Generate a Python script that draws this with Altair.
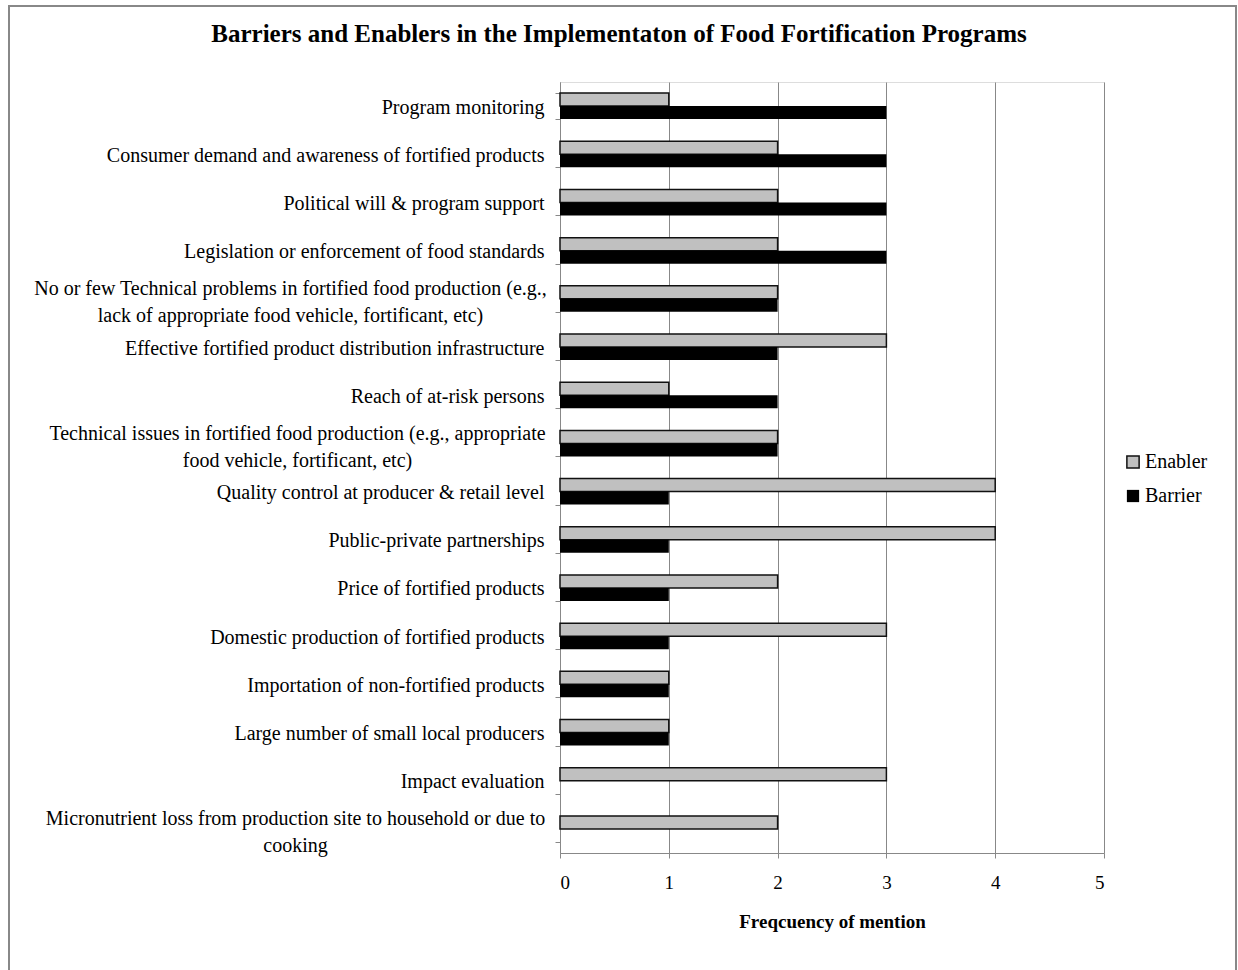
import altair as alt
import pandas as pd

categories = [
    "Program monitoring ",
    "Consumer demand and awareness of fortified products",
    "Political will & program support",
    "Legislation or enforcement of food standards",
    "No or few Technical problems in fortified food production (e.g.,|lack of appropriate food vehicle, fortificant, etc)",
    "Effective fortified product distribution infrastructure",
    "Reach of at-risk persons",
    "Technical issues in fortified food production (e.g., appropriate|food vehicle, fortificant, etc)",
    "Quality control at producer & retail level",
    "Public-private partnerships",
    "Price of fortified products",
    "Domestic production of fortified products",
    "Importation of non-fortified products",
    "Large number of small local producers",
    "Impact evaluation",
    "Micronutrient loss from production site to household or due to|cooking",
]
enabler = [1, 2, 2, 2, 2, 3, 1, 2, 4, 4, 2, 3, 1, 1, 3, 2]
barrier = [3, 3, 3, 3, 2, 2, 2, 2, 1, 1, 1, 1, 1, 1, 0, 0]
series_names = ["Enabler", "Barrier"]
x_ticks = [0, 1, 2, 3, 4, 5]

rows = []
for c, e, b in zip(categories, enabler, barrier):
    rows.append({"cat": c, "series": "Enabler", "value": e})
    rows.append({"cat": c, "series": "Barrier", "value": b})
df = pd.DataFrame(rows)

FONT = "Liberation Serif"
MULTI = "indexof(datum.label, '|') >= 0"

label_padding = {
    "condition": [
        {"test": "indexof(datum.label, 'No or few') == 0", "value": 265},
        {"test": "indexof(datum.label, 'Technical issues') == 0", "value": 258},
        {"test": "indexof(datum.label, 'Micronutrient') == 0", "value": 260},
    ],
    "value": 11,
}

bars = alt.Chart(df).mark_bar().encode(
    x=alt.X(
        "value:Q",
        scale=alt.Scale(domain=[0, 5], nice=False),
        axis=alt.Axis(
            values=x_ticks,
            title="Freqcuency of mention",
            titleFont=FONT,
            titleFontSize=19,
            titleFontWeight="bold",
            titleColor="black",
            titlePadding=20,
            labelFont=FONT,
            labelFontSize=19,
            labelColor="black",
            labelPadding=15,
            tickSize=5,
            tickColor="#888888",
            domainColor="#888888",
            grid=True,
            gridColor="#888888",
            gridWidth=1,
        ),
    ),
    y=alt.Y(
        "cat:N",
        sort=categories,
        scale=alt.Scale(paddingInner=0.46, paddingOuter=0.23),
        axis=alt.Axis(
            title=None,
            labelExpr="split(datum.label, '|')",
            labelFont=FONT,
            labelFontSize=20,
            labelColor="black",
            labelLineHeight=27,
            labelLimit=0,
            labelAlign=alt.condition(MULTI, alt.value("center"), alt.value("right")),
            labelPadding=label_padding,
            labelOffset=alt.condition(MULTI, alt.value(-10), alt.value(1)),
            tickBand="extent",
            tickSize=5,
            tickColor="#888888",
            domainColor="#888888",
            grid=False,
        ),
    ),
    yOffset=alt.YOffset("series:N", sort=series_names, scale=alt.Scale(paddingInner=0, paddingOuter=0)),
    color=alt.Color(
        "series:N",
        sort=series_names,
        scale=alt.Scale(domain=series_names, range=["#C0C0C0", "#000000"]),
        legend=alt.Legend(
            title=None,
            orient="none",
            legendX=563,
            legendY=370,
            symbolType="square",
            symbolSize=150,
            symbolStrokeWidth=1.5,
            labelFont=FONT,
            labelFontSize=20,
            labelColor="black",
            labelOffset=2,
            rowPadding=14,
            padding=0,
        ),
    ),
    stroke=alt.Stroke(
        "series:N",
        sort=series_names,
        scale=alt.Scale(domain=series_names, range=["#111111", "#000000"]),
        legend=None,
    ),
    strokeWidth=alt.StrokeWidth(
        "series:N",
        scale=alt.Scale(domain=series_names, range=[1.5, 0]),
        legend=None,
    ),
)

border = alt.Chart(pd.DataFrame({"k": [0]})).mark_rect(
    fill="transparent", stroke="#888888", strokeWidth=2
).encode(
    x=alt.value(-551),
    x2=alt.value(676),
    y=alt.value(-76),
    y2=alt.value(900),
)

chart = alt.layer(border, bars).properties(
    width=544,
    height=771,
    autosize=alt.AutoSizeParams(type="none"),
    padding={"left": 560, "top": 82, "right": 134, "bottom": 117},
    title=alt.TitleParams(
        "Barriers and Enablers in the Implementaton of Food Fortification Programs",
        font=FONT,
        fontSize=25,
        fontWeight="bold",
        color="black",
        anchor="middle",
        frame="group",
        dx=-213,
        offset=-42,
    ),
).configure_view(stroke=None).configure(background="white")

chart.save("out.html", embed_options={"renderer": "svg", "actions": False})
